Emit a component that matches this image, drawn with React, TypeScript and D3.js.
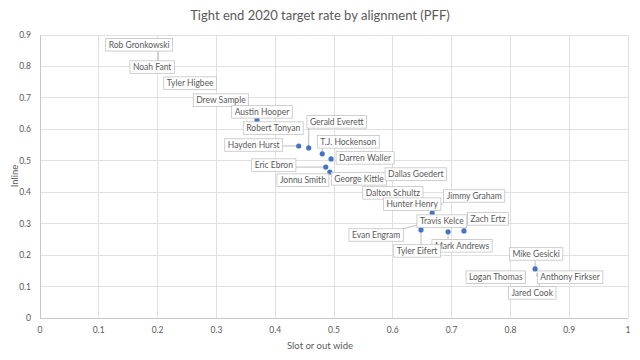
import React, { useEffect, useRef } from "react";
import * as d3 from "d3";

const players = [
  "Rob Gronkowski", "Noah Fant", "Tyler Higbee", "Drew Sample", "Austin Hooper",
  "Robert Tonyan", "Hayden Hurst", "Gerald Everett", "T.J. Hockenson", "Darren Waller",
  "Eric Ebron", "Jonnu Smith", "George Kittle", "Dallas Goedert", "Dalton Schultz",
  "Hunter Henry", "Jimmy Graham", "Evan Engram", "Travis Kelce", "Tyler Eifert",
  "Mark Andrews", "Zach Ertz", "Mike Gesicki", "Logan Thomas", "Anthony Firkser", "Jared Cook",
];
const slotWide = [
  0.201, 0.218, 0.252, 0.306, 0.369, 0.395, 0.44, 0.457, 0.48, 0.495,
  0.486, 0.493, 0.5, 0.612, 0.595, 0.638, 0.667, 0.689, 0.68, 0.648,
  0.694, 0.721, 0.842, 0.782, 0.859, 0.849,
];
const inline = [
  0.802, 0.798, 0.747, 0.693, 0.63, 0.604, 0.547, 0.541, 0.522, 0.506,
  0.48, 0.464, 0.452, 0.464, 0.401, 0.359, 0.334, 0.318, 0.305, 0.28,
  0.274, 0.277, 0.156, 0.13, 0.13, 0.137,
];
const xTicks = [0, 0.1, 0.2, 0.3, 0.4, 0.5, 0.6, 0.7, 0.8, 0.9, 1];
const yTicks = [0, 0.1, 0.2, 0.3, 0.4, 0.5, 0.6, 0.7, 0.8, 0.9];

// label layout (pixel offsets of label centre from its point) — layout, not data
const labelDx = [-19, -16, 2, 1, 5, 1, -45, 28, 26, 34, -52, -27, 25, 16, 3, -3, 42, -69, 2, -4, 14, 24, 1, -4, 25, -7];
const labelDy = [-21, 0, 0, 0, -8, 0, -1, -26, -12, -1, -2, 8, 3, 2, 1, -1, -17, 17, -1, 21, 14, -12, -15, 0, 0, 18];
const hasLeader = [1, 0, 0, 0, 0, 0, 1, 1, 1, 0, 1, 0, 0, 0, 0, 0, 1, 1, 0, 1, 1, 1, 1, 0, 0, 1];
const drawOrder = [0, 1, 2, 3, 4, 5, 6, 7, 8, 9, 10, 11, 12, 13, 14, 15, 16, 17, 18, 20, 19, 21, 22, 23, 24, 25];

const W = 640, H = 360;
const FONT = "Lato, 'Open Sans', sans-serif";

export default function App() {
  const ref = useRef<SVGSVGElement>(null);
  useEffect(() => {
    const svg = d3.select(ref.current);
    svg.selectAll("*").remove();
    const x = d3.scaleLinear().domain([0, 1]).range([40, 628]);
    const y = d3.scaleLinear().domain([0, 0.9]).range([318, 35]);

    svg.append("rect").attr("width", W).attr("height", H).attr("fill", "#fff");

    // gridlines
    const g = svg.append("g");
    g.selectAll(".vg").data(xTicks.slice(1)).enter().append("line")
      .attr("x1", (d) => x(d)).attr("x2", (d) => x(d)).attr("y1", y(0.9)).attr("y2", y(0))
      .attr("stroke", "#e0e0e0").attr("stroke-width", 1).attr("shape-rendering", "crispEdges");
    g.selectAll(".hg").data(yTicks.slice(1)).enter().append("line")
      .attr("x1", x(0)).attr("x2", x(1)).attr("y1", (d) => y(d)).attr("y2", (d) => y(d))
      .attr("stroke", "#e0e0e0").attr("stroke-width", 1).attr("shape-rendering", "crispEdges");
    g.append("line").attr("x1", x(0)).attr("x2", x(1)).attr("y1", y(0)).attr("y2", y(0))
      .attr("stroke", "#c8c8c8").attr("shape-rendering", "crispEdges");
    g.append("line").attr("x1", x(0)).attr("x2", x(0)).attr("y1", y(0)).attr("y2", y(0.9))
      .attr("stroke", "#c8c8c8").attr("shape-rendering", "crispEdges");

    // tick labels
    svg.selectAll(".xt").data(xTicks).enter().append("text")
      .attr("x", (d) => x(d)).attr("y", 333).attr("text-anchor", "middle")
      .attr("font-family", FONT).attr("font-size", 8.5).attr("fill", "#595959")
      .text((d) => d3.format("")(d));
    svg.selectAll(".yt").data(yTicks).enter().append("text")
      .attr("x", 31).attr("y", (d) => y(d) + 3).attr("text-anchor", "end")
      .attr("font-family", FONT).attr("font-size", 8.5).attr("fill", "#595959")
      .text((d) => d3.format("")(d));

    // titles
    svg.append("text").attr("x", 320).attr("y", 20).attr("text-anchor", "middle")
      .attr("font-family", FONT).attr("font-size", 13).attr("fill", "#595959")
      .text("Tight end 2020 target rate by alignment (PFF)");
    svg.append("text").attr("x", 320).attr("y", 349).attr("text-anchor", "middle")
      .attr("font-family", FONT).attr("font-size", 9.5).attr("fill", "#595959")
      .text("Slot or out wide");
    svg.append("text").attr("transform", "translate(18,176) rotate(-90)").attr("text-anchor", "middle")
      .attr("font-family", FONT).attr("font-size", 9.5).attr("fill", "#595959")
      .text("Inline");

    // compute label boxes
    const LFS = 8.5;
    const measure = svg.append("text").attr("font-family", FONT).attr("font-size", LFS);
    const boxes = players.map((name, i) => {
      measure.text(name);
      const tw = (measure.node() as SVGTextElement).getComputedTextLength();
      const px = x(slotWide[i]), py = y(inline[i]);
      const cx = px + labelDx[i], cy = py + labelDy[i];
      const w = tw + 6, h = 12.5;
      return { name, px, py, cx, cy, w, h, x0: cx - w / 2, y0: cy - h / 2 };
    });
    measure.remove();

    // leader lines
    const lg = svg.append("g");
    boxes.forEach((b, i) => {
      if (!hasLeader[i]) return;
      const nx = Math.max(b.x0, Math.min(b.px, b.x0 + b.w));
      const ny = Math.max(b.y0, Math.min(b.py, b.y0 + b.h));
      lg.append("line").attr("x1", nx).attr("y1", ny).attr("x2", b.px).attr("y2", b.py)
        .attr("stroke", "#a6a6a6").attr("stroke-width", 0.75);
    });

    // points
    svg.append("g").selectAll("circle").data(players).enter().append("circle")
      .attr("cx", (_, i) => x(slotWide[i])).attr("cy", (_, i) => y(inline[i]))
      .attr("r", 2.6).attr("fill", "#4472c4");

    // labels
    const lab = svg.append("g");
    drawOrder.forEach((i) => {
      const b = boxes[i];
      lab.append("rect").attr("x", b.x0).attr("y", b.y0).attr("width", b.w).attr("height", b.h)
        .attr("fill", "#fff").attr("stroke", "#bfbfbf").attr("stroke-width", 0.75);
      lab.append("text").attr("x", b.cx).attr("y", b.cy + 3).attr("text-anchor", "middle")
        .attr("font-family", FONT).attr("font-size", LFS).attr("fill", "#595959").text(b.name);
    });
  }, []);
  return <svg ref={ref} width={W} height={H} style={{ position: "absolute", left: 0, top: 0 }} />;
}
